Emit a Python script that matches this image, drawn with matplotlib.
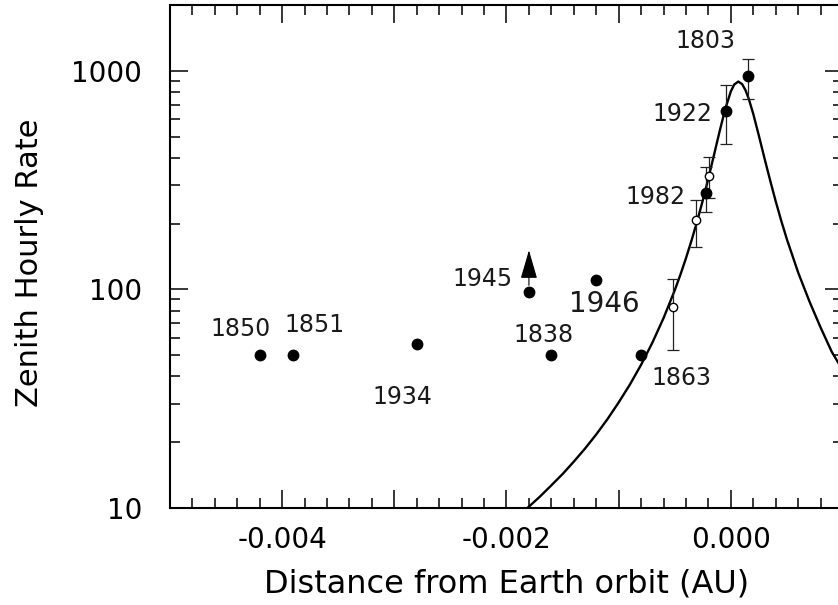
import matplotlib
matplotlib.use("Agg")
import matplotlib.pyplot as plt
import numpy as np
from matplotlib.ticker import FixedLocator, FuncFormatter, LogLocator, MultipleLocator, NullFormatter

plt.rcParams["font.family"] = ["DejaVu Sans"]

# Observed storms with a year label (filled dots)
years = ["1850", "1851", "1934", "1945", "1838", "1946", "1863", "1982", "1922", "1803"]
year_dist = [-0.0042, -0.0039, -0.0028, -0.0018, -0.0016, -0.0012, -0.0008, -0.00022, -0.00004, 0.00015]
year_zhr = [50, 50, 56, 97, 50, 110, 50, 276, 656, 942]

# Error ranges for the labelled storms that have them
err_years = ["1982", "1922", "1803"]
err_lo = [226, 461, 741]
err_hi = [363, 863, 1131]

# 1945 is only a lower limit
lower_limits = ["1945"]

# Open circles (other observations)
open_dist = [-0.000515, -0.000315, -0.000193]
open_zhr = [83, 208, 330]
open_lo = [53, 157, 262]
open_hi = [112, 257, 404]

# Model activity profile
curve_dist = [-0.00182, -0.0017, -0.0016, -0.0015, -0.0014, -0.0013, -0.0012, -0.0011,
              -0.0010, -0.0009, -0.0008, -0.0007, -0.0006, -0.0005, -0.00045, -0.0004,
              -0.00035, -0.0003, -0.00025, -0.0002, -0.00015, -0.0001, -0.00005, 0.0,
              0.00003, 0.000066, 0.0001, 0.00013, 0.00016, 0.0002, 0.00025, 0.0003,
              0.00035, 0.0004, 0.00045, 0.0005, 0.0006, 0.0007, 0.0008, 0.0009, 0.001]
curve_zhr = [9.93, 11.3, 12.7, 14.3, 16.3, 18.7, 21.7, 25.5,
             30.4, 36.7, 45.2, 57.0, 73.9, 99.1, 116.6, 138.9,
             167.7, 205.3, 255.4, 322.5, 412.3, 528.7, 668.3, 805.2,
             865, 893, 870, 817, 744, 635, 505, 398,
             316, 253, 205.6, 169.4, 119.6, 88.3, 67, 51.8, 42.5]

# where each year label sits relative to its dot (pixels)
label_offsets = {
    "1850": (-19, 19), "1851": (21, 23), "1934": (-14, -60), "1945": (-46, 6),
    "1838": (-8, 13), "1946": (8, -32), "1863": (40, -30), "1982": (-51, -11),
    "1922": (-44, -10), "1803": (-42, 28),
}

fig = plt.figure(figsize=(8.38, 6.05), dpi=100)
ax = fig.add_axes([170 / 838, 97 / 605, 673 / 838, 503 / 605])

ax.plot(curve_dist, curve_zhr, color="black", lw=1.7, solid_joinstyle="round", zorder=2)

# error bars
for yr, lo, hi in zip(err_years, err_lo, err_hi):
    i = years.index(yr)
    ax.errorbar([year_dist[i]], [year_zhr[i]],
                yerr=[[year_zhr[i] - lo], [hi - year_zhr[i]]],
                fmt="none", ecolor="#222222", elinewidth=0.9, capsize=4, capthick=0.9, zorder=3)
ax.errorbar(open_dist, open_zhr,
            yerr=[np.array(open_zhr) - np.array(open_lo), np.array(open_hi) - np.array(open_zhr)],
            fmt="none", ecolor="#222222", elinewidth=0.9, capsize=4, capthick=0.9, zorder=3)

ax.plot(year_dist, year_zhr, "o", color="black", ms=7.5, zorder=4)
ax.plot(open_dist, open_zhr, "o", mfc="white", mec="black", mew=1.0, ms=6, zorder=5)

for yr, x, y in zip(years, year_dist, year_zhr):
    dx, dy = label_offsets[yr]
    size = 20 if yr == "1946" else 17
    ax.annotate(yr, xy=(x, y), xytext=(dx, dy), textcoords="offset pixels",
                ha="center", va="baseline", fontsize=size, color="#1a1a1a")

# arrow for lower limits
for yr in lower_limits:
    i = years.index(yr)
    ax.annotate("", xy=(year_dist[i], year_zhr[i]), xytext=(0, 42), textcoords="offset pixels",
                arrowprops=dict(arrowstyle="<|-,head_length=1.2,head_width=0.35", mutation_scale=15,
                                color="black", lw=0.8, shrinkA=0, shrinkB=5))

ax.set_yscale("log")
ax.set_xlim(-0.005, 0.001)
ax.set_ylim(10, 2000)

ax.yaxis.set_major_locator(FixedLocator([10, 100, 1000]))
ax.yaxis.set_major_formatter(FuncFormatter(lambda v, p: f"{v:.0f}"))
ax.yaxis.set_minor_locator(LogLocator(base=10, subs=np.arange(2, 10)))
ax.yaxis.set_minor_formatter(NullFormatter())

ax.xaxis.set_major_locator(MultipleLocator(0.001))
ax.xaxis.set_minor_locator(MultipleLocator(0.0002))


def xfmt(v, pos):
    k = int(round(v / 0.001))
    if k % 2 != 0:
        return ""
    return f"{v:.3f}".replace("-0.000", "0.000")


ax.xaxis.set_major_formatter(FuncFormatter(xfmt))

for side in ax.spines.values():
    side.set_linewidth(1.5)
ax.tick_params(which="both", direction="in", top=True, right=True, width=1.1, colors="black")
ax.tick_params(which="major", length=13)
ax.tick_params(which="minor", length=7)
ax.tick_params(axis="x", which="major", labelsize=20, pad=13)
ax.tick_params(axis="y", which="major", labelsize=20, pad=20)

ax.set_xlabel("Distance from Earth orbit (AU)", fontsize=23)
ax.set_ylabel("Zenith Hourly Rate", fontsize=22)
ax.xaxis.set_label_coords(0.5, -0.121)
ax.yaxis.set_label_coords(-0.187, 0.487)

fig.savefig("out.png", dpi=100)
